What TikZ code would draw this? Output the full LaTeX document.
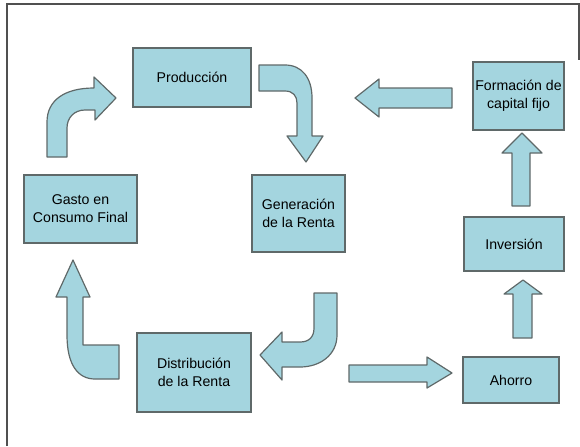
\documentclass[tikz,border=0pt]{standalone}
\usepackage{fontspec}
\setmainfont{Liberation Sans}
\definecolor{cyanfill}{RGB}{164,213,223}
\definecolor{edgegray}{RGB}{95,105,105}
\definecolor{framegray}{RGB}{80,80,80}
\tikzset{
  box/.style={draw=edgegray, line width=0.9pt, fill=cyanfill, inner sep=1pt, align=center,
    font=\fontsize{10.6}{13.5}\selectfont},
  blockarrow/.style={draw=edgegray, line width=0.9pt, fill=cyanfill, line join=round},
  frameline/.style={draw=framegray, line width=1.5pt}
}
\begin{document}
\begin{tikzpicture}[x=0.75pt,y=-0.75pt]
\useasboundingbox (0,0) rectangle (580,446);
% frame
\draw[frameline] (7,446) -- (7,4) -- (578.5,4) -- (578.5,60);
% boxes
\node[box, minimum width=88.5pt, minimum height=44.25pt] (prod) at (192,77.5) {Producción};
\node[box, minimum width=84.75pt, minimum height=51pt] (gasto) at (80.5,209) {Gasto en\\Consumo Final};
\node[box, minimum width=69.75pt, minimum height=57.75pt] (gen) at (298.5,213.5) {Generación\\de la Renta};
\node[box, minimum width=68.25pt, minimum height=51pt] (form) at (518.5,96) {Formación de\\capital fijo};
\node[box, minimum width=75pt, minimum height=40.5pt] (inv) at (514,244) {Inversión};
\node[box, minimum width=72pt, minimum height=34.5pt] (ahorro) at (511,380) {Ahorro};
\node[box, minimum width=85.5pt, minimum height=59.25pt] (dist) at (194,372.5) {Distribución\\de la Renta};
% block arrows
% Gasto -> Produccion
\path[blockarrow] (47,157) -- (47,122) .. controls (47,100) and (65,88) .. (94,88) -- (94,77) -- (116,98) -- (95,120) -- (95,110) -- (85,110) .. controls (74,110) and (67,118) .. (67,128) -- (67,157) -- cycle;
% Produccion -> Generacion
\path[blockarrow] (259,65) -- (285,65) .. controls (302,65) and (312,78) .. (312,98) -- (312,136) -- (323,136) -- (306,162) -- (287,136) -- (297,136) -- (297,103) .. controls (297,96) and (293,91) .. (285,91) -- (259,91) -- cycle;
% Formacion -> Produccion
\path[blockarrow] (452,88) -- (379,88) -- (379,79) -- (355,98) -- (379,117) -- (379,108) -- (452,108) -- cycle;
% Inversion -> Formacion
\path[blockarrow] (512,206) -- (512,153) -- (502,153) -- (522,133) -- (542,153) -- (530,153) -- (530,206) -- cycle;
% Ahorro -> Inversion
\path[blockarrow] (513,338) -- (513,294) -- (504,294) -- (523,280) -- (542,294) -- (532,294) -- (532,338) -- cycle;
% Distribucion -> Ahorro
\path[blockarrow] (349,365) -- (427,365) -- (427,357) -- (452,373) -- (427,388) -- (427,382) -- (349,382) -- cycle;
% Generacion -> Distribucion
\path[blockarrow] (314,293) -- (337,293) -- (337,335) .. controls (337,355) and (320,367) .. (300,367) -- (282,367) -- (282,380) -- (260,355) -- (282,332) -- (282,342) -- (300,342) .. controls (309,342) and (314,337) .. (314,328) -- cycle;
% Distribucion -> Gasto
\path[blockarrow] (119,345) -- (119,379) -- (95,379) .. controls (78,379) and (67,365) .. (67,335) -- (67,297) -- (56,297) -- (73,260) -- (90,297) -- (83,297) -- (83,345) -- cycle;
\end{tikzpicture}
\end{document}
